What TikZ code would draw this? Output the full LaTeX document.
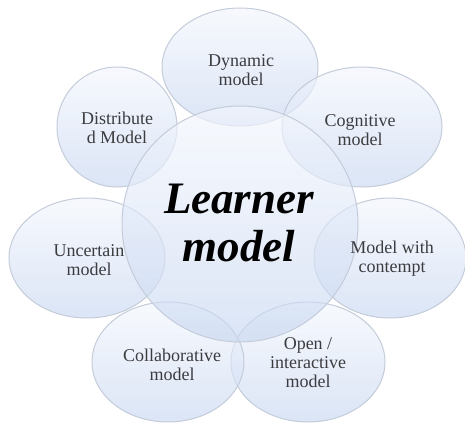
\documentclass[tikz,border=0pt]{standalone}
\usepackage{fontspec}
\setmainfont{Liberation Serif}
\definecolor{rimgray}{RGB}{196,204,218}
\definecolor{paleblue}{RGB}{243,246,253}
\definecolor{midblue}{RGB}{200,215,241}
\definecolor{labelgray}{RGB}{60,60,64}

\tikzset{
	bubble/.style={draw=rimgray, line width=1pt, top color=paleblue, bottom color=midblue, fill opacity=0.65},
	bubbletext/.style={align=center, text=labelgray, inner sep=0pt, font=\fontsize{18}{19}\selectfont},
}

\begin{document}
\begin{tikzpicture}[x=1pt, y=1pt]
		%%%%% START %%%%%
		
		\useasboundingbox (0, 0) rectangle (465, 424);
		
		% cut-off reference marks at the top
		\begin{scope}
			\clip (0, 0) rectangle (465, 424);
			\node[anchor=base west, inner sep=0pt, font=\fontsize{18}{19}\selectfont] (refmarks) at (92, 427) {[\hspace{16pt}]\hspace{10pt}[\hspace{16pt}]};
		\end{scope}
		
		% outer models
		\draw[bubble] (240, 357) ellipse (78 and 59);
		\draw[bubble] (362, 297) ellipse (80 and 60);
		\draw[bubble] (390, 166) ellipse (76 and 60);
		\draw[bubble] (308, 62) ellipse (77 and 60);
		\draw[bubble] (168, 62) ellipse (76 and 60);
		\draw[bubble] (87, 166) ellipse (78 and 60);
		\draw[bubble] (117, 297) ellipse (60 and 60);
		
		% learner model in the middle
		\draw[bubble] (240, 200) circle (118);
		
		\node[bubbletext] (dynamic) at (241, 354) {Dynamic\\model};
		\node[bubbletext] (cognitive) at (360, 294) {Cognitive\\model};
		\node[bubbletext] (contempt) at (392, 165) {Model with\\contempt};
		\node[bubbletext] (open) at (308, 61) {Open /\\interactive\\model};
		\node[bubbletext] (collab) at (172, 59) {Collaborative\\model};
		\node[bubbletext] (uncertain) at (89, 164) {Uncertain\\model};
		\node[bubbletext] (distrib) at (117, 296) {Distribute\\d Model};
		
		\node[align=center, inner sep=0pt, font=\fontsize{45}{48}\selectfont\bfseries\itshape] (learner) at (239, 201) {Learner\\model};
		
		%%%%% END %%%%%
\end{tikzpicture}
\end{document}
